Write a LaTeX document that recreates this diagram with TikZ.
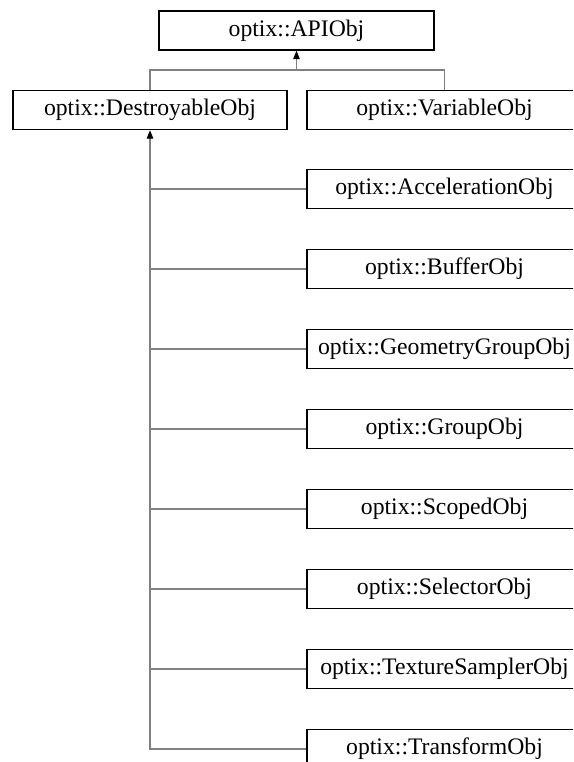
\documentclass[tikz,border=0pt]{standalone}
\usepackage{fontspec}
\setmainfont{Liberation Serif}
\usetikzlibrary{arrows.meta}
\begin{document}
\begin{tikzpicture}[x=1pt,y=-1pt,
  cls/.style={draw=black, line width=1.4pt, fill=white, rectangle, minimum height=39pt, inner sep=0pt, font=\fontsize{23.7}{27}\selectfont},
  wideL/.style={cls, minimum width=274pt},
  wideR/.style={cls, minimum width=275pt},
  conn/.style={draw=black!50, line width=1.1pt},
  inh/.style={conn, {Triangle[width=6.5pt,length=8.5pt,black]}-}]
\path[use as bounding box, clip] (0,0) rectangle (573,762);
\node[wideR] (api) at (296.5,30.5) {optix::APIObj};
\node[wideL] (destr) at (150,110) {optix::DestroyableObj};
\node[wideR] (var) at (444.5,110) {optix::VariableObj};
\node[wideR] (accel) at (444.5,189) {optix::AccelerationObj};
\node[wideR] (buffer) at (444.5,269) {optix::BufferObj};
\node[wideR] (geom) at (444.5,349) {optix::GeometryGroupObj};
\node[wideR] (group) at (444.5,429) {optix::GroupObj};
\node[wideR] (scoped) at (444.5,509) {optix::ScopedObj};
\node[wideR] (selector) at (444.5,589) {optix::SelectorObj};
\node[wideR] (texture) at (444.5,669) {optix::TextureSamplerObj};
\node[wideR] (trans) at (444.5,749) {optix::TransformObj};
\coordinate (j1) at (296.5,70);
\draw[conn] (destr.north) |- (var.north |- j1) -- (var.north);
\draw[inh] (api.south) -- (j1);
\draw[inh] (destr.south) |- (trans.west);
\foreach \n in {accel,buffer,geom,group,scoped,selector,texture}{
  \draw[conn] (destr.south |- \n.west) -- (\n.west);
}
\end{tikzpicture}
\end{document}
